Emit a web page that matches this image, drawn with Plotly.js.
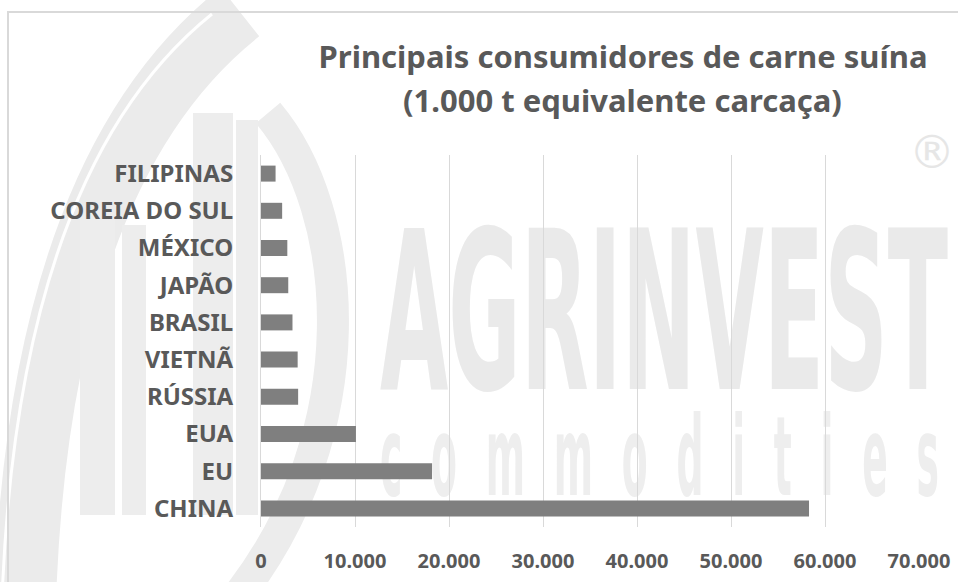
<!DOCTYPE html>
<html>
<head>
<meta charset="utf-8">
<script src="https://cdn.plot.ly/plotly-3.0.1.min.js"></script>
<style>
  html, body { margin: 0; padding: 0; background: #ffffff; }
  #wrap { position: relative; width: 958px; height: 582px; overflow: hidden; }
  #bg { position: absolute; left: 0; top: 0; z-index: 0; }
  #chart { position: absolute; left: 0; top: 0; width: 958px; height: 582px; z-index: 1; }
</style>
</head>
<body>
<div id="wrap">
  <svg id="bg" width="958" height="582" xmlns="http://www.w3.org/2000/svg">
    <!-- watermark logo arcs -->
    <path d="M 240 12 Q 40 170 25 600" fill="none" stroke="#ebebeb" stroke-width="62"/>
    <path d="M 212 14 Q 18 170 2 600" fill="none" stroke="#ffffff" stroke-width="3"/>
    <path d="M 268 113 C 350 210, 370 430, 235 600" fill="none" stroke="#ececec" stroke-width="32"/>
    <rect x="193" y="113" width="40" height="402" fill="#ededed"/>
    <rect x="236" y="120" width="22" height="395" fill="#ededed"/>
    <rect x="80" y="210" width="35" height="305" fill="#ededed"/>
    <rect x="122" y="225" width="24" height="290" fill="#ededed"/>
    <!-- watermark text -->
    <text x="380" y="389" font-family="DejaVu Sans" font-weight="bold" font-size="221" fill="#eaeaea" textLength="568" lengthAdjust="spacingAndGlyphs">AGRINVEST</text>
    <text x="0" y="0" transform="translate(380,495) scale(0.34,1)" font-family="DejaVu Sans" font-weight="bold" font-size="111" fill="#eeeeee" textLength="1644" lengthAdjust="spacing">commodities</text>
    <text x="932" y="168" font-family="DejaVu Sans" font-size="46" fill="#e6e6e6" text-anchor="middle">®</text>
    <!-- chart border -->
    <rect x="8" y="12" width="1000" height="1000" fill="none" stroke="#d9d9d9" stroke-width="2"/>
  </svg>
  <div id="chart"></div>
</div>
<script>
// Data (bottom to top)
const categories = ["CHINA", "EU", "EUA", "RÚSSIA", "VIETNÃ", "BRASIL", "JAPÃO", "MÉXICO", "COREIA DO SUL", "FILIPINAS"];
const consumo = [58300, 18200, 10100, 3950, 3900, 3350, 2900, 2800, 2250, 1550];
const tickValues = [0, 10000, 20000, 30000, 40000, 50000, 60000, 70000];
const titleLine1 = "Principais consumidores de carne suína";
const titleLine2 = "(1.000 t equivalente carcaça)";

const textColor = "#595959";
const fontFam = "'Noto Sans', 'Open Sans', sans-serif";

const trace = {
  type: "bar",
  orientation: "h",
  y: categories,
  x: consumo,
  marker: { color: "#7f7f7f" },
  hoverinfo: "none"
};

const layout = {
  width: 958,
  height: 582,
  margin: { l: 261, r: 39, t: 155, b: 55 },
  paper_bgcolor: "rgba(0,0,0,0)",
  plot_bgcolor: "rgba(0,0,0,0)",
  separators: ",.",
  bargap: 0.57,
  showlegend: false,
  font: { family: fontFam, color: textColor },
  title: {
    text: titleLine1,
    xref: "container", yref: "container",
    x: 623 / 958, y: 1 - 57 / 582,
    xanchor: "center", yanchor: "middle",
    font: { family: fontFam, size: 31, weight: "bold", color: textColor }
  },
  annotations: [{
    text: titleLine2,
    xref: "paper", yref: "paper",
    x: (622 - 261) / 658, y: (527 - 100) / 372,
    xanchor: "center", yanchor: "middle",
    showarrow: false,
    font: { family: fontFam, size: 31, weight: "bold", color: textColor }
  }],
  xaxis: {
    range: [0, 70000],
    tickvals: tickValues,
    tickformat: ",d",
    showgrid: true,
    gridcolor: "#d9d9d9",
    gridwidth: 1,
    zeroline: false,
    showline: false,
    ticks: "",
    ticklabelstandoff: 20,
    tickfont: { family: fontFam, size: 20, weight: "bold", color: textColor },
    fixedrange: true
  },
  yaxis: {
    type: "category",
    categoryorder: "array",
    categoryarray: categories,
    showgrid: false,
    zeroline: false,
    showline: true,
    linecolor: "#d9d9d9",
    linewidth: 1,
    ticks: "",
    ticklabelstandoff: 22,
    tickfont: { family: fontFam, size: 24, weight: "bold", color: textColor },
    fixedrange: true
  }
};

Plotly.newPlot("chart", [trace], layout, { displayModeBar: false, staticPlot: true });
</script>
</body>
</html>
